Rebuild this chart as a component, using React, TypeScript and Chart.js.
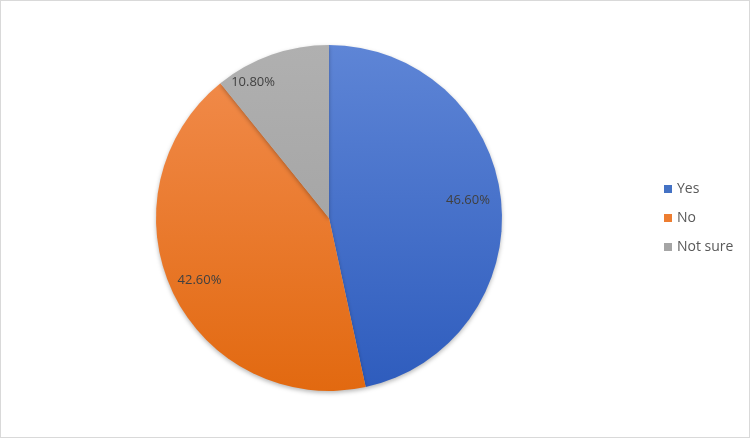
import React, { useEffect, useRef } from "react";
import { Chart, registerables } from "chart.js";

Chart.register(...registerables);

const categories = ["Yes", "No", "Not sure"];
const values = [46.6, 42.6, 10.8];
const valueLabels = ["46.60%", "42.60%", "10.80%"];
const colorsTop = ["#5e85d6", "#f28d4f", "#b0b0b0"];
const colorsBottom = ["#2e5cbd", "#e26910", "#9c9c9c"];
const legendColors = ["#4472c4", "#ed7d31", "#a5a5a5"];

export default function App() {
  const ref = useRef<HTMLCanvasElement | null>(null);

  useEffect(() => {
    document.body.style.margin = "0";
    const canvas = ref.current!;
    const labelPlugin = {
      id: "labelsAndLegend",
      beforeDatasetsDraw(chart: any) {
        const ctx = chart.ctx;
        ctx.save();
        ctx.shadowColor = "rgba(0,0,0,0.28)";
        ctx.shadowBlur = 4;
        ctx.shadowOffsetY = 2;
      },
      afterDatasetsDraw(chart: any) {
        const ctx = chart.ctx;
        ctx.restore();
        const meta = chart.getDatasetMeta(0);
        const angleShift = [-0.02, 0, -0.17];
        const radFrac = [0.81, 0.83, 0.9];
        ctx.save();
        ctx.font = "13px 'Open Sans', 'Liberation Sans', sans-serif";
        ctx.fillStyle = "#404040";
        ctx.textAlign = "center";
        ctx.textBaseline = "middle";
        meta.data.forEach((arc: any, i: number) => {
          const p = arc.getProps(["x", "y", "startAngle", "endAngle", "outerRadius"], true);
          const mid = (p.startAngle + p.endAngle) / 2 + angleShift[i];
          const r = p.outerRadius * radFrac[i];
          ctx.fillText(valueLabels[i], p.x + Math.cos(mid) * r, p.y + Math.sin(mid) * r);
        });
        // legend
        ctx.font = "14px 'Open Sans', 'Liberation Sans', sans-serif";
        ctx.textAlign = "left";
        categories.forEach((c, i) => {
          const y = 189 + i * 29;
          ctx.fillStyle = legendColors[i];
          ctx.fillRect(664, y - 4, 8, 8);
          ctx.fillStyle = "#595959";
          ctx.fillText(c, 677, y);
        });
        ctx.restore();
      },
    };

    const chart = new Chart(canvas, {
      type: "pie",
      data: {
        labels: categories,
        datasets: [
          {
            data: values,
            borderWidth: 0,
            backgroundColor: (c: any) => {
              const area = c.chart.chartArea;
              if (!area) return legendColors[c.dataIndex];
              const g = c.chart.ctx.createLinearGradient(0, area.top, 0, area.bottom);
              g.addColorStop(0, colorsTop[c.dataIndex]);
              g.addColorStop(1, colorsBottom[c.dataIndex]);
              return g;
            },
          },
        ],
      },
      options: {
        animation: false,
        responsive: false,
        rotation: 0,
        layout: { padding: { left: 156, right: 248, top: 45, bottom: 47 } },
        plugins: {
          legend: { display: false },
          tooltip: { enabled: false },
        },
      },
      plugins: [labelPlugin],
    });
    return () => chart.destroy();
  }, []);

  return (
    <div style={{ width: 750, height: 438, position: "relative", background: "#fff" }}>
      <canvas ref={ref} width={750} height={438} style={{ display: "block" }} />
      <div
        style={{
          position: "absolute",
          left: 0,
          top: 0,
          width: 748,
          height: 436,
          border: "1px solid #d9d9d9",
          pointerEvents: "none",
        }}
      />
    </div>
  );
}
